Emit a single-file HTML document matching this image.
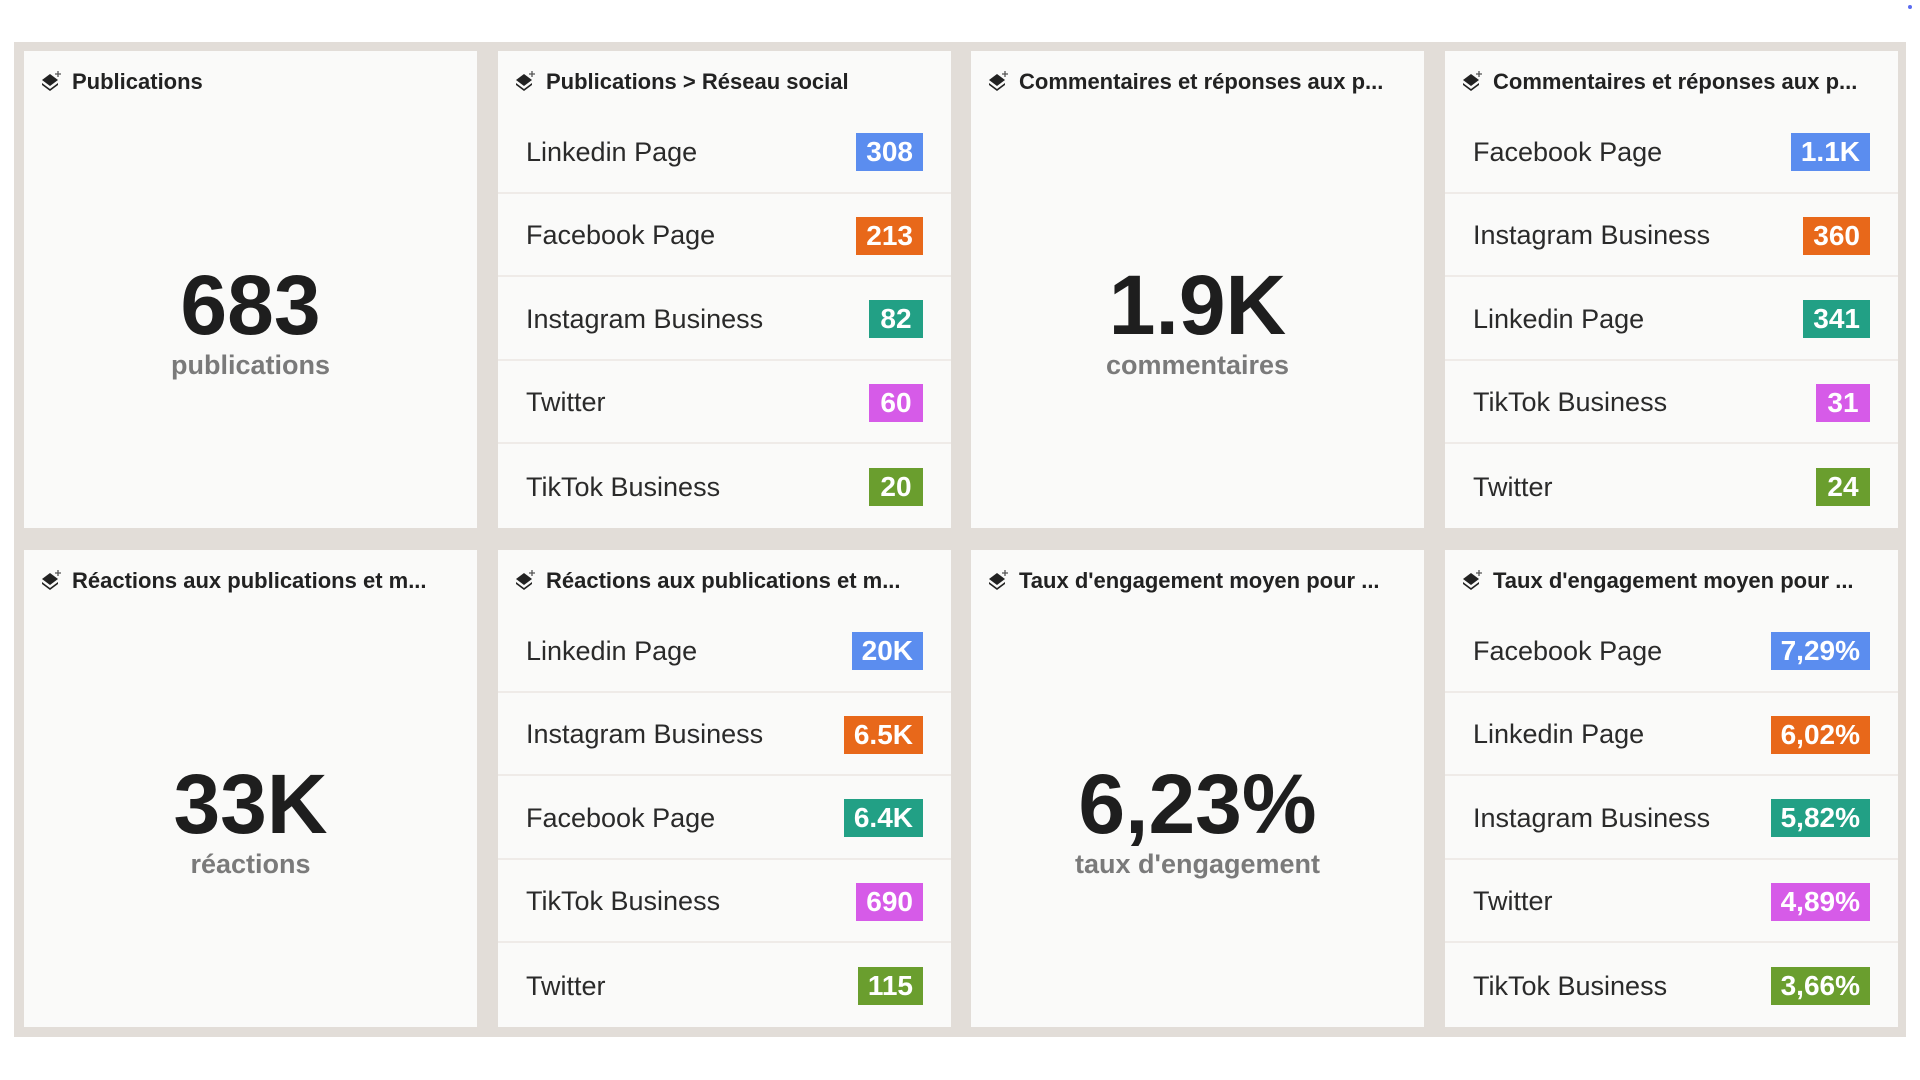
<!DOCTYPE html>
<html><head><meta charset="utf-8"><style>
*{margin:0;padding:0;box-sizing:border-box}
body{width:1920px;height:1080px;background:#fff;position:relative;overflow:hidden;font-family:"Liberation Sans",sans-serif;color:#222}
.grey{position:absolute;left:14px;top:42px;width:1892px;height:995px;background:#e2ddd8}
.card{position:absolute;width:453px;height:477px;background:#fafaf9;overflow:hidden}
.title{position:absolute;left:16px;top:18px;font-weight:bold;font-size:22px;white-space:nowrap;display:flex;align-items:center;gap:10px;color:#222}
.title svg{flex:none}
.big{position:absolute;left:0;right:0;text-align:center;font-weight:bold;font-size:84px;line-height:1;top:212px;color:#1e1e1e}
.sub{position:absolute;left:0;right:0;text-align:center;font-weight:bold;font-size:27px;color:#7a7a7a;top:299px}
.row{position:absolute;left:0;right:0;height:83.5px;border-bottom:2px solid #efebe8;display:flex;align-items:center;justify-content:space-between;padding:3px 28px 0}
.row span{font-size:27px;color:#2a2a2a}
.row b{color:#fff;font-size:28px;height:38px;line-height:38px;padding:0 10px;min-width:54px;text-align:center}
.c1{background:#5b8def}.c2{background:#e8681a}.c3{background:#22a085}.c4{background:#d65be8}.c5{background:#6a9e2e}
</style></head><body>
<div style="position:absolute;left:1908px;top:5px;width:4px;height:4px;border-radius:2px;background:#5b6cf0"></div>
<div class="grey"></div>

<div class="card" style="left:24px;top:51px">
<div class="title"><svg width="22" height="22" viewBox="0 0 22 22"><path d="M10 3 L18 9 L10 15 L2 9Z" fill="#222"/><path d="M2 12 L10 18 L18 12 L18 14 L10 20 L2 14Z" fill="#222"/><path d="M18 0v6M15 3h6" stroke="#555" stroke-width="1.3"/></svg>Publications</div>
<div class="big">683</div><div class="sub">publications</div></div>

<div class="card" style="left:498px;top:51px">
<div class="title"><svg width="22" height="22" viewBox="0 0 22 22"><path d="M10 3 L18 9 L10 15 L2 9Z" fill="#222"/><path d="M2 12 L10 18 L18 12 L18 14 L10 20 L2 14Z" fill="#222"/><path d="M18 0v6M15 3h6" stroke="#555" stroke-width="1.3"/></svg>Publications &gt; Réseau social</div>
<div class="row" style="top:59px"><span>Linkedin Page</span><b class="c1">308</b></div>
<div class="row" style="top:142.5px"><span>Facebook Page</span><b class="c2">213</b></div>
<div class="row" style="top:226px"><span>Instagram Business</span><b class="c3">82</b></div>
<div class="row" style="top:309.5px"><span>Twitter</span><b class="c4">60</b></div>
<div class="row" style="top:393px;border:none"><span>TikTok Business</span><b class="c5">20</b></div>
</div>

<div class="card" style="left:971px;top:51px">
<div class="title"><svg width="22" height="22" viewBox="0 0 22 22"><path d="M10 3 L18 9 L10 15 L2 9Z" fill="#222"/><path d="M2 12 L10 18 L18 12 L18 14 L10 20 L2 14Z" fill="#222"/><path d="M18 0v6M15 3h6" stroke="#555" stroke-width="1.3"/></svg>Commentaires et réponses aux p...</div>
<div class="big">1.9K</div><div class="sub">commentaires</div></div>

<div class="card" style="left:1445px;top:51px">
<div class="title"><svg width="22" height="22" viewBox="0 0 22 22"><path d="M10 3 L18 9 L10 15 L2 9Z" fill="#222"/><path d="M2 12 L10 18 L18 12 L18 14 L10 20 L2 14Z" fill="#222"/><path d="M18 0v6M15 3h6" stroke="#555" stroke-width="1.3"/></svg>Commentaires et réponses aux p...</div>
<div class="row" style="top:59px"><span>Facebook Page</span><b class="c1">1.1K</b></div>
<div class="row" style="top:142.5px"><span>Instagram Business</span><b class="c2">360</b></div>
<div class="row" style="top:226px"><span>Linkedin Page</span><b class="c3">341</b></div>
<div class="row" style="top:309.5px"><span>TikTok Business</span><b class="c4">31</b></div>
<div class="row" style="top:393px;border:none"><span>Twitter</span><b class="c5">24</b></div>
</div>

<div class="card" style="left:24px;top:550px">
<div class="title"><svg width="22" height="22" viewBox="0 0 22 22"><path d="M10 3 L18 9 L10 15 L2 9Z" fill="#222"/><path d="M2 12 L10 18 L18 12 L18 14 L10 20 L2 14Z" fill="#222"/><path d="M18 0v6M15 3h6" stroke="#555" stroke-width="1.3"/></svg>Réactions aux publications et m...</div>
<div class="big">33K</div><div class="sub">réactions</div></div>

<div class="card" style="left:498px;top:550px">
<div class="title"><svg width="22" height="22" viewBox="0 0 22 22"><path d="M10 3 L18 9 L10 15 L2 9Z" fill="#222"/><path d="M2 12 L10 18 L18 12 L18 14 L10 20 L2 14Z" fill="#222"/><path d="M18 0v6M15 3h6" stroke="#555" stroke-width="1.3"/></svg>Réactions aux publications et m...</div>
<div class="row" style="top:59px"><span>Linkedin Page</span><b class="c1">20K</b></div>
<div class="row" style="top:142.5px"><span>Instagram Business</span><b class="c2">6.5K</b></div>
<div class="row" style="top:226px"><span>Facebook Page</span><b class="c3">6.4K</b></div>
<div class="row" style="top:309.5px"><span>TikTok Business</span><b class="c4">690</b></div>
<div class="row" style="top:393px;border:none"><span>Twitter</span><b class="c5">115</b></div>
</div>

<div class="card" style="left:971px;top:550px">
<div class="title"><svg width="22" height="22" viewBox="0 0 22 22"><path d="M10 3 L18 9 L10 15 L2 9Z" fill="#222"/><path d="M2 12 L10 18 L18 12 L18 14 L10 20 L2 14Z" fill="#222"/><path d="M18 0v6M15 3h6" stroke="#555" stroke-width="1.3"/></svg>Taux d'engagement moyen pour ...</div>
<div class="big">6,23%</div><div class="sub">taux d'engagement</div></div>

<div class="card" style="left:1445px;top:550px">
<div class="title"><svg width="22" height="22" viewBox="0 0 22 22"><path d="M10 3 L18 9 L10 15 L2 9Z" fill="#222"/><path d="M2 12 L10 18 L18 12 L18 14 L10 20 L2 14Z" fill="#222"/><path d="M18 0v6M15 3h6" stroke="#555" stroke-width="1.3"/></svg>Taux d'engagement moyen pour ...</div>
<div class="row" style="top:59px"><span>Facebook Page</span><b class="c1">7,29%</b></div>
<div class="row" style="top:142.5px"><span>Linkedin Page</span><b class="c2">6,02%</b></div>
<div class="row" style="top:226px"><span>Instagram Business</span><b class="c3">5,82%</b></div>
<div class="row" style="top:309.5px"><span>Twitter</span><b class="c4">4,89%</b></div>
<div class="row" style="top:393px;border:none"><span>TikTok Business</span><b class="c5">3,66%</b></div>
</div>
</body></html>
